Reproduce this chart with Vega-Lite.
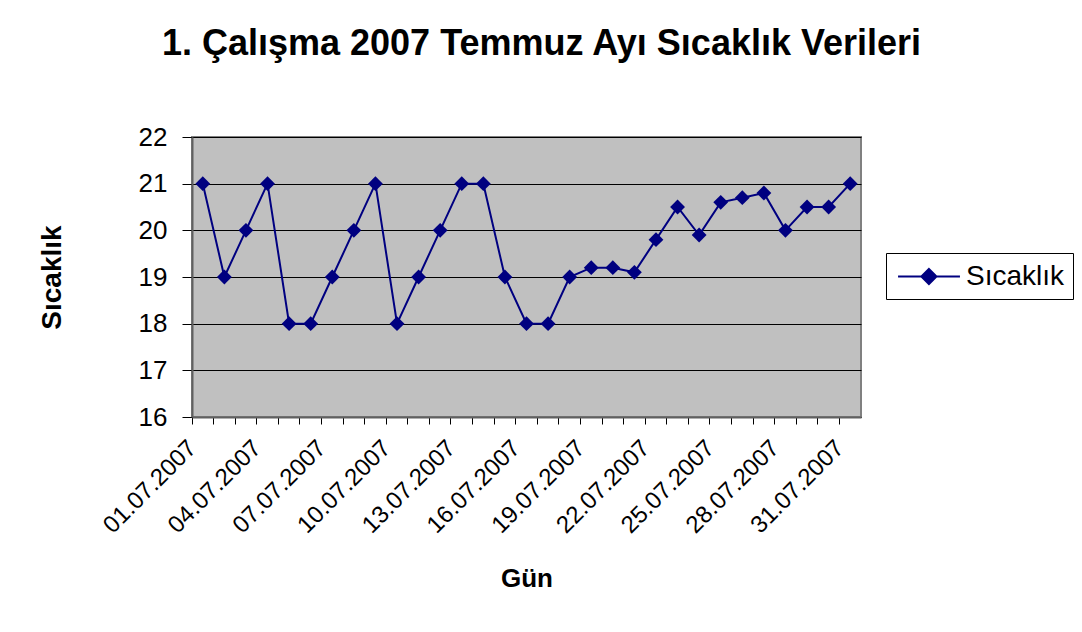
{
  "$schema": "https://vega.github.io/schema/vega-lite/v6.json",
  "width": 669,
  "height": 280,
  "autosize": {"type": "none"},
  "padding": {"left": 192, "top": 137, "right": 221, "bottom": 215},
  "background": "white",
  "title": {
    "text": "1. Çalışma 2007 Temmuz Ayı Sıcaklık Verileri",
    "font": "Liberation Sans",
    "fontSize": 36,
    "fontWeight": "bold",
    "color": "black",
    "anchor": "middle",
    "baseline": "alphabetic",
    "offset": 33,
    "dx": 15
  },
  "data": {
    "values": [
      {"Gün": "01.07.2007", "Sıcaklık": 21},
      {"Gün": "02.07.2007", "Sıcaklık": 19},
      {"Gün": "03.07.2007", "Sıcaklık": 20},
      {"Gün": "04.07.2007", "Sıcaklık": 21},
      {"Gün": "05.07.2007", "Sıcaklık": 18},
      {"Gün": "06.07.2007", "Sıcaklık": 18},
      {"Gün": "07.07.2007", "Sıcaklık": 19},
      {"Gün": "08.07.2007", "Sıcaklık": 20},
      {"Gün": "09.07.2007", "Sıcaklık": 21},
      {"Gün": "10.07.2007", "Sıcaklık": 18},
      {"Gün": "11.07.2007", "Sıcaklık": 19},
      {"Gün": "12.07.2007", "Sıcaklık": 20},
      {"Gün": "13.07.2007", "Sıcaklık": 21},
      {"Gün": "14.07.2007", "Sıcaklık": 21},
      {"Gün": "15.07.2007", "Sıcaklık": 19},
      {"Gün": "16.07.2007", "Sıcaklık": 18},
      {"Gün": "17.07.2007", "Sıcaklık": 18},
      {"Gün": "18.07.2007", "Sıcaklık": 19},
      {"Gün": "19.07.2007", "Sıcaklık": 19.2},
      {"Gün": "20.07.2007", "Sıcaklık": 19.2},
      {"Gün": "21.07.2007", "Sıcaklık": 19.1},
      {"Gün": "22.07.2007", "Sıcaklık": 19.8},
      {"Gün": "23.07.2007", "Sıcaklık": 20.5},
      {"Gün": "24.07.2007", "Sıcaklık": 19.9},
      {"Gün": "25.07.2007", "Sıcaklık": 20.6},
      {"Gün": "26.07.2007", "Sıcaklık": 20.7},
      {"Gün": "27.07.2007", "Sıcaklık": 20.8},
      {"Gün": "28.07.2007", "Sıcaklık": 20.0},
      {"Gün": "29.07.2007", "Sıcaklık": 20.5},
      {"Gün": "30.07.2007", "Sıcaklık": 20.5},
      {"Gün": "31.07.2007", "Sıcaklık": 21}
    ]
  },
  "encoding": {
    "x": {
      "field": "Gün",
      "type": "ordinal",
      "sort": null,
      "scale": {"type": "band", "paddingInner": 0, "paddingOuter": 0},
      "axis": {
        "title": "Gün",
        "titleFont": "Liberation Sans",
        "titleFontSize": 26,
        "titleFontWeight": "bold",
        "titleColor": "black",
        "titlePadding": 28,
        "bandPosition": 0,
        "labelExpr": "indexof(['01.07.2007','04.07.2007','07.07.2007','10.07.2007','13.07.2007','16.07.2007','19.07.2007','22.07.2007','25.07.2007','28.07.2007','31.07.2007'], datum.value) >= 0 ? datum.value : ''",
        "labelAngle": -45,
        "labelAlign": "right",
        "labelBaseline": "middle",
        "labelFont": "Liberation Sans",
        "labelFontSize": 24,
        "labelColor": "black",
        "labelPadding": 20,
        "labelOffset": -10,
        "labelOverlap": false,
        "labelBound": false,
        "labelFlush": false,
        "tickColor": "black",
        "tickSize": 7,
        "domainColor": "#606060",
        "domainWidth": 2,
        "grid": false
      }
    },
    "y": {
      "field": "Sıcaklık",
      "type": "quantitative",
      "scale": {"domain": [16, 22], "nice": false, "zero": false},
      "axis": {
        "title": "Sıcaklık",
        "titleFont": "Liberation Sans",
        "titleFontSize": 28,
        "titleFontWeight": "bold",
        "titleColor": "black",
        "titlePadding": 72,
        "values": [16, 17, 18, 19, 20, 21, 22],
        "labelFont": "Liberation Sans",
        "labelFontSize": 26,
        "labelColor": "black",
        "labelPadding": 15,
        "tickColor": "black",
        "tickSize": 10,
        "domainColor": "#606060",
        "domainWidth": 2,
        "grid": true,
        "gridColor": "black",
        "gridWidth": 1,
        "gridOpacity": 1
      }
    }
  },
  "layer": [
    {
      "mark": {"type": "line", "strokeWidth": 2, "color": "#000080"},
      "encoding": {
        "color": {
          "datum": "Sıcaklık",
          "scale": {"range": ["#000080"]},
          "legend": {
            "title": null,
            "orient": "none",
            "legendX": 694,
            "legendY": 116,
            "symbolType": "M-0.79,0L3.48,0M1.34,-0.52L1.86,0L1.34,0.52L0.82,0Z",
            "symbolSize": 841,
            "symbolStrokeWidth": 2,
            "symbolFillColor": "#000080",
            "symbolStrokeColor": "#000080",
            "labelFont": "Liberation Sans",
            "labelFontSize": 28,
            "labelColor": "black",
            "labelOffset": 41,
            "strokeColor": "black",
            "fillColor": "white",
            "padding": 8
          }
        }
      }
    },
    {
      "mark": {"type": "point", "shape": "diamond", "filled": true, "size": 220, "color": "#000080", "opacity": 1}
    }
  ],
  "config": {
    "view": {"fill": "#C0C0C0", "stroke": "#808080", "strokeWidth": 2}
  }
}
